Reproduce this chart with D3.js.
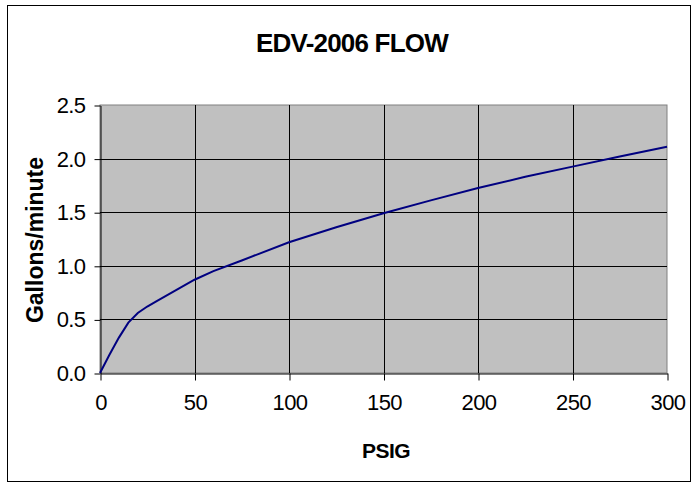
<!DOCTYPE html>
<html>
<head>
<meta charset="utf-8">
<script src="https://cdn.jsdelivr.net/npm/d3@7"></script>
<style>
  html, body { margin: 0; padding: 0; background: #fff; }
  svg { display: block; font-family: "Liberation Sans", Arial, sans-serif; }
</style>
</head>
<body>
<div id="chart"></div>
<script>
// pressure (PSIG) and flow (gallons/minute)
const psig = [0, 5, 10, 15, 20, 25, 30, 40, 50, 60, 75, 100, 125, 150, 175, 200, 225, 250, 275, 300];
const flow = [0, 0.17, 0.33, 0.47, 0.56, 0.62, 0.67, 0.77, 0.87, 0.95, 1.05, 1.22, 1.36, 1.49, 1.61, 1.725, 1.83, 1.925, 2.02, 2.11];
const xTicks = [0, 50, 100, 150, 200, 250, 300];
const yTicks = [0, 0.5, 1.0, 1.5, 2.0, 2.5];

const width = 695;
const height = 483;
const margin = { top: 105, right: 28, bottom: 110, left: 100 };
const innerW = 667 - margin.left;
const innerH = 373 - margin.top;

const svg = d3.select('#chart')
  .append('svg')
  .attr('width', width)
  .attr('height', height);

// outer chart frame
svg.append('rect')
  .attr('x', 7.5).attr('y', 5.5)
  .attr('width', 683).attr('height', 476)
  .attr('fill', '#fff')
  .attr('stroke', '#000');

svg.append('text')
  .attr('x', 352).attr('y', 52)
  .attr('text-anchor', 'middle')
  .attr('font-size', 26).attr('font-weight', 'bold')
  .attr('letter-spacing', -0.8)
  .text('EDV-2006 FLOW');

const g = svg.append('g')
  .attr('transform', `translate(${margin.left}, ${margin.top})`);

const x = d3.scaleLinear().domain([0, 300]).range([0, innerW]);
const y = d3.scaleLinear().domain([0, 2.5]).range([innerH, 0]);

g.append('rect')
  .attr('width', innerW).attr('height', innerH)
  .attr('fill', '#c0c0c0')
  .attr('stroke', '#808080');

// gridlines
g.append('g')
  .selectAll('line')
  .data(yTicks.slice(1, -1))
  .enter()
  .append('line')
  .attr('x1', 0).attr('x2', innerW)
  .attr('y1', d => Math.round(y(d)) + 0.5).attr('y2', d => Math.round(y(d)) + 0.5)
  .attr('stroke', '#000');

g.append('g')
  .selectAll('line')
  .data(xTicks.slice(1, -1))
  .enter()
  .append('line')
  .attr('y1', 0).attr('y2', innerH)
  .attr('x1', d => Math.round(x(d)) + 0.5).attr('x2', d => Math.round(x(d)) + 0.5)
  .attr('stroke', '#000');

const xAxis = g.append('g')
  .attr('transform', `translate(0.5, ${innerH + 0.5})`)
  .call(d3.axisBottom(x).tickValues(xTicks).tickSize(7).tickSizeOuter(0).tickPadding(14));

const yAxis = g.append('g')
  .attr('transform', 'translate(0.5, 0.5)')
  .call(d3.axisLeft(y).tickValues(yTicks).tickFormat(d3.format('.1f')).tickSize(6).tickSizeOuter(0).tickPadding(9));

[xAxis, yAxis].forEach(a => {
  a.select('.domain').attr('stroke', '#000');
  a.selectAll('.tick line').attr('stroke', '#000');
  a.selectAll('.tick text')
    .attr('fill', '#000')
    .attr('font-size', 22)
    .attr('letter-spacing', -0.6)
    .attr('font-family', '"Liberation Sans", Arial, sans-serif');
});

const line = d3.line()
  .x((d, i) => x(psig[i]))
  .y(d => y(d));

g.append('path')
  .datum(flow)
  .attr('d', line)
  .attr('fill', 'none')
  .attr('stroke', '#000080')
  .attr('stroke-width', 2);

svg.append('text')
  .attr('x', 386).attr('y', 458)
  .attr('text-anchor', 'middle')
  .attr('font-size', 21).attr('font-weight', 'bold')
  .attr('letter-spacing', -0.5)
  .text('PSIG');

svg.append('text')
  .attr('transform', 'translate(43, 240) rotate(-90)')
  .attr('text-anchor', 'middle')
  .attr('font-size', 23).attr('font-weight', 'bold')
  .attr('letter-spacing', 0)
  .text('Gallons/minute');
</script>
</body>
</html>
